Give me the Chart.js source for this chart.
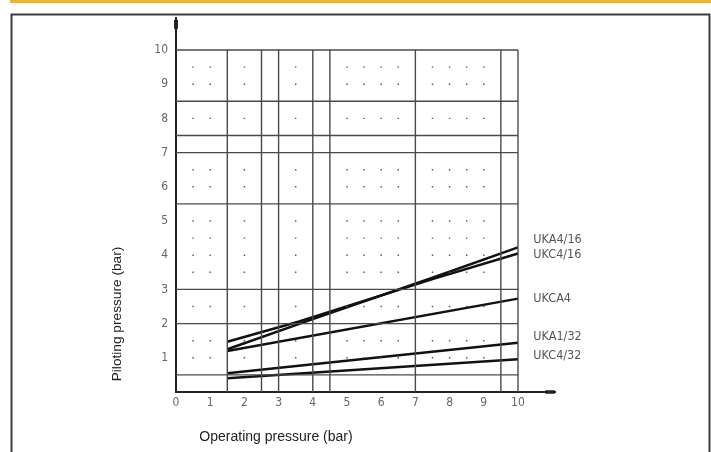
<!DOCTYPE html>
<html>
<head>
<meta charset="utf-8">
<script src="https://cdn.jsdelivr.net/npm/chart.js@4.4.1/dist/chart.umd.min.js"></script>
<style>
  html, body { margin: 0; padding: 0; background: #fff; }
  #wrap { width: 711px; height: 452px; position: relative; }
</style>
</head>
<body>
<div id="wrap"><canvas id="c" width="711" height="452"></canvas></div>
<script>
// ---- data ----
const xTickValues = [0, 1, 2, 3, 4, 5, 6, 7, 8, 9, 10];
const xTickLabels = ['0', '1', '2', '3', '4', '5', '6', '7', '8', '9', '10'];
const yTickValues = [1, 2, 3, 4, 5, 6, 7, 8, 9, 10];
const yTickLabels = ['1', '2', '3', '4', '5', '6', '7', '8', '9', '10'];

// irregular drawing grid
const gridX = [1.5, 2.5, 3, 4, 4.5, 7, 9.5, 10];
const gridY = [0.5, 2, 3, 5.5, 7, 7.5, 8.5, 10];
// dot pattern inside grid cells
const dotX = [0.5, 1, 2, 3.5, 5, 5.5, 6, 6.5, 7.5, 8, 8.5, 9];
const dotY = [1, 1.5, 2.5, 3.5, 4, 4.5, 5, 6, 6.5, 8, 9, 9.5];

// series (operating pressure -> piloting pressure)
const seriesNames = ['UKA4/16', 'UKC4/16', 'UKCA4', 'UKA1/32', 'UKC4/32'];
const ukA4_16 = [{x: 1.5, y: 1.25}, {x: 4, y: 2.13}, {x: 7.5, y: 3.34}, {x: 10, y: 4.23}];
const ukC4_16 = [{x: 1.5, y: 1.47}, {x: 3.6, y: 2.06}, {x: 7.5, y: 3.30}, {x: 10, y: 4.05}];
const ukCA4   = [{x: 1.5, y: 1.20}, {x: 10, y: 2.73}];
const ukA1_32 = [{x: 1.5, y: 0.55}, {x: 10, y: 1.44}];
const ukC4_32 = [{x: 1.5, y: 0.40}, {x: 10, y: 0.96}];
const labelX = 10.45;
const labelY = [4.46, 4.0, 2.74, 1.62, 1.05];

const xTitle = 'Operating pressure (bar)';
const yTitle = 'Piloting pressure (bar)';

// ---- build datasets ----
const GRID_COLOR = '#4a4a4a';
const datasets = [];
gridX.forEach(v => datasets.push({
  data: [{x: v, y: 0}, {x: v, y: 10}], showLine: true, pointRadius: 0,
  borderColor: GRID_COLOR, borderWidth: 1.4
}));
gridY.forEach(v => datasets.push({
  data: [{x: 0, y: v}, {x: 10, y: v}], showLine: true, pointRadius: 0,
  borderColor: GRID_COLOR, borderWidth: 1.4
}));
const dots = [];
dotY.forEach(y => dotX.forEach(x => dots.push({x, y})));
datasets.push({
  data: dots, showLine: false, pointStyle: 'rect', pointRadius: 1,
  backgroundColor: '#555', borderColor: '#555', borderWidth: 0
});
// axis arrow heads
datasets.push({ data: [{x: 0, y: 10.62}, {x: 0, y: 10.88}], showLine: true, pointRadius: 0, borderColor: '#222', borderWidth: 4, clip: false });
datasets.push({ data: [{x: 10.8, y: 0}, {x: 11.08, y: 0}], showLine: true, pointRadius: 0, borderColor: '#222', borderWidth: 3.5, clip: false });

[ukA4_16, ukC4_16, ukCA4, ukA1_32, ukC4_32].forEach(s => datasets.push({
  data: s, showLine: true, pointRadius: 0, borderColor: '#111', borderWidth: 2.5, tension: 0
}));

const TICK_FONT = "'Liberation Sans Narrow', 'DejaVu Sans Condensed', 'Liberation Sans', Arial, sans-serif";

const decor = {
  id: 'decor',
  beforeDraw(chart) {
    const ctx = chart.ctx;
    ctx.save();
    ctx.fillStyle = '#fff';
    ctx.fillRect(0, 0, chart.width, chart.height);
    ctx.fillStyle = '#f6b31c';
    ctx.fillRect(10, 0, 701, 3);
    ctx.strokeStyle = '#3c3c3c';
    ctx.lineWidth = 2;
    ctx.beginPath();
    ctx.moveTo(11.5, 470);
    ctx.lineTo(11.5, 14.5);
    ctx.lineTo(709.5, 14.5);
    ctx.lineTo(709.5, 470);
    ctx.stroke();
    ctx.restore();
  },
  afterDraw(chart) {
    const ctx = chart.ctx;
    const xs = chart.scales.x, ys = chart.scales.y;
    ctx.save();
    ctx.fillStyle = '#555';
    ctx.font = "12.5px " + TICK_FONT;
    ctx.textAlign = 'left';
    ctx.textBaseline = 'middle';
    seriesNames.forEach((n, i) => {
      ctx.fillText(n, xs.getPixelForValue(labelX), ys.getPixelForValue(labelY[i]));
    });
    ctx.fillStyle = '#222';
    ctx.textAlign = 'center';
    ctx.font = "14px 'Liberation Sans', Arial, sans-serif";
    ctx.fillText(xTitle, 276, 437);
    ctx.font = "13.7px 'Liberation Sans', Arial, sans-serif";
    ctx.translate(117, 314);
    ctx.rotate(-Math.PI / 2);
    ctx.fillText(yTitle, 0, 0);
    ctx.restore();
  }
};

new Chart(document.getElementById('c'), {
  type: 'scatter',
  data: { datasets },
  options: {
    responsive: false,
    animation: false,
    events: [],
    layout: { padding: { left: 136, top: 17.5, right: 155.4, bottom: 30 } },
    plugins: { legend: { display: false }, tooltip: { enabled: false } },
    scales: {
      x: {
        type: 'linear', min: 0, max: 11.1,
        afterBuildTicks: s => { s.ticks = xTickValues.map(v => ({value: v})); },
        afterFit: s => { s.height = 30; },
        grid: { display: false, drawTicks: false },
        border: { display: true, color: '#222', width: 2 },
        ticks: {
          padding: 4, maxRotation: 0, autoSkip: false,
          color: '#666', font: { family: TICK_FONT, size: 12 },
          callback: (v, i) => xTickLabels[i]
        }
      },
      y: {
        type: 'linear', min: 0, max: 10.95,
        afterBuildTicks: s => { s.ticks = yTickValues.map(v => ({value: v})); },
        afterFit: s => { s.width = 40; },
        grid: { display: false, drawTicks: false },
        border: { display: true, color: '#222', width: 2 },
        ticks: {
          padding: 8, autoSkip: false,
          color: '#666', font: { family: TICK_FONT, size: 12 },
          callback: (v, i) => yTickLabels[i]
        }
      }
    }
  },
  plugins: [decor]
});
</script>
</body>
</html>
